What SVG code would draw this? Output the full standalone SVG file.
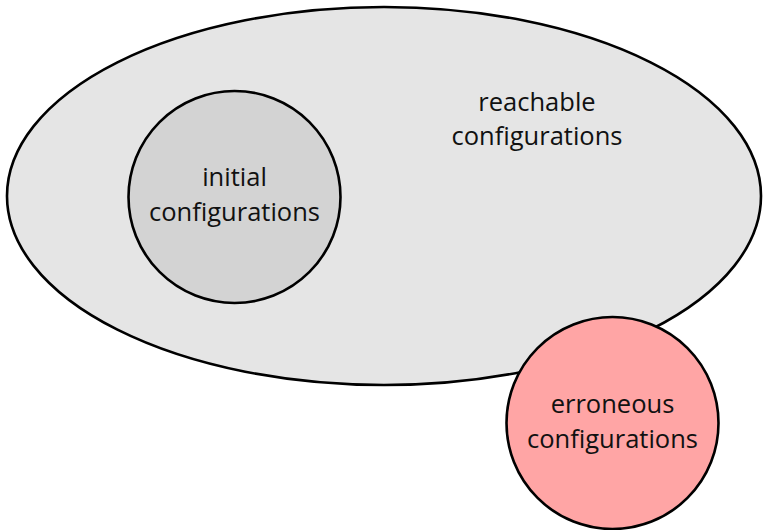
<svg xmlns="http://www.w3.org/2000/svg" width="763" height="530" viewBox="0 0 763 530">
<style>
.s{stroke:#000;stroke-width:2.6}
.t{font-family:"Open Sans","DejaVu Sans",sans-serif;font-size:25.5px;fill:#111;text-anchor:middle}
</style>
<rect width="763" height="530" fill="#fff"/>
<g id="reachable">
<ellipse class="s" cx="384" cy="196" rx="377" ry="189" fill="#e5e5e5"/>
<text class="t" x="537" y="111">reachable</text>
<text class="t" x="537" y="145">configurations</text>
</g>
<g id="initial">
<circle class="s" cx="234.5" cy="197" r="106" fill="#d3d3d3"/>
<text class="t" x="234.5" y="186">initial</text>
<text class="t" x="234.5" y="221">configurations</text>
</g>
<g id="erroneous">
<circle class="s" cx="612.5" cy="423" r="106" fill="#ffa5a5"/>
<text class="t" x="612.5" y="413">erroneous</text>
<text class="t" x="612.5" y="448">configurations</text>
</g>
<g id="connectors"/>
</svg>
